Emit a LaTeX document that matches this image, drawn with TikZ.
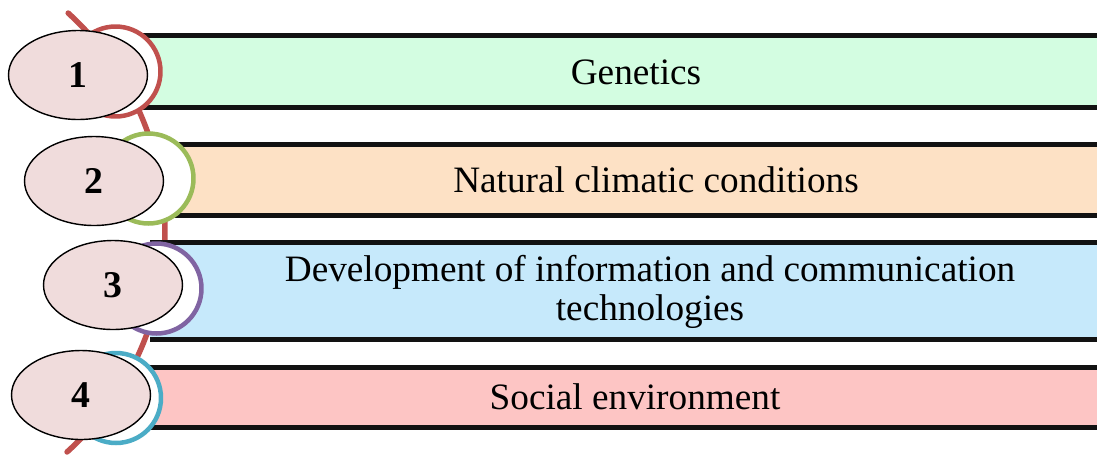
\documentclass[tikz,border=0pt]{standalone}
\usepackage{fontspec}
\setmainfont{Liberation Serif}
\usetikzlibrary{shapes.geometric}

\definecolor{arcred}{HTML}{C0504D}
\definecolor{ringgreen}{HTML}{9BBB59}
\definecolor{ringpurple}{HTML}{8064A2}
\definecolor{ringcyan}{HTML}{4BACC6}
\definecolor{numfill}{HTML}{F0DCDC}
\definecolor{barmint}{HTML}{D3FDE1}
\definecolor{barpeach}{HTML}{FDE1C5}
\definecolor{barblue}{HTML}{C6E9FB}
\definecolor{barpink}{HTML}{FDC5C4}

\begin{document}
\begin{tikzpicture}[x=0.02cm, y=-0.02cm]
        % Define styles
        \tikzset{
            num/.style={draw, ellipse, line width=0.8pt, fill=numfill, minimum width=2.78cm, minimum height=1.78cm, inner sep=0pt, font=\fontsize{21.5}{24}\selectfont\bfseries},
            ring/.style={draw, circle, line width=0.09cm, fill=white, minimum size=1.8cm, inner sep=0pt},
            bartext/.style={align=center, font=\fontsize{21.2}{22.5}\selectfont},
            barline/.style={line width=0.1cm, draw=black!93}
        }
        \useasboundingbox (0,0) rectangle (1097,457);

        % Red guide arc behind everything
        \draw[arcred, line width=0.11cm, line cap=round]
            plot[domain=-47.7:48, samples=60, smooth] ({-131+296*cos(\x)}, {232+296*sin(\x)});

        % Bars
        \fill[barmint] (140,35.5) rectangle (1097,107.5);
        \draw[barline] (140,35.5) -- (1097,35.5);
        \draw[barline] (140,107.5) -- (1097,107.5);

        \fill[barpeach] (165,144.5) rectangle (1097,215.5);
        \draw[barline] (165,144.5) -- (1097,144.5);
        \draw[barline] (165,215.5) -- (1097,215.5);

        \fill[barblue] (150,242.5) rectangle (1097,339.5);
        \draw[barline] (150,242.5) -- (1097,242.5);
        \draw[barline] (150,339.5) -- (1097,339.5);

        \fill[barpink] (150,367.5) rectangle (1097,427.5);
        \draw[barline] (150,367.5) -- (1097,367.5);
        \draw[barline] (150,427.5) -- (1097,427.5);

        % Place nodes
        \node[ring, draw=arcred] (ring1) at (115.5,71.5) {};
        \node[ring, draw=ringgreen] (ring2) at (148.5,178.5) {};
        \node[ring, draw=ringpurple] (ring3) at (156.5,288.5) {};
        \node[ring, draw=ringcyan] (ring4) at (116,398) {};

        \node[num] (num1) at (78,75) {1};
        \node[num] (num2) at (94,181) {2};
        \node[num] (num3) at (113,285) {3};
        \node[num] (num4) at (81,395) {4};

        \node[bartext] (genetics) at (636,72) {Genetics};
        \node[bartext] (climate) at (656,180) {Natural climatic conditions};
        \node[bartext] (ict) at (650,292) {Development of information and communication\\technologies};
        \node[bartext] (social) at (635,397) {Social environment};
    \end{tikzpicture}
\end{document}
